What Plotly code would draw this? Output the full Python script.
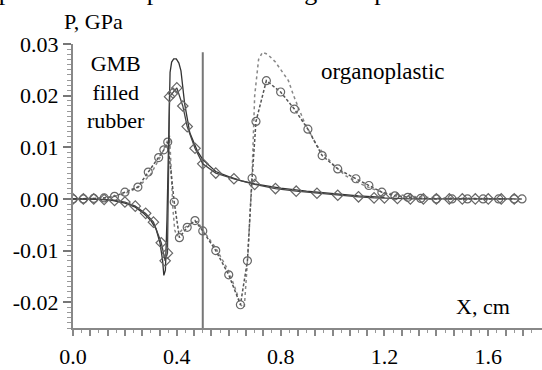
import numpy as np
import plotly.graph_objects as go

# ---- data ----
# GMB filled rubber, computed (thin solid line)
x_gmb_calc = [0.00, 0.05, 0.10, 0.15, 0.20, 0.24, 0.27, 0.30, 0.32, 0.335, 0.345, 0.350, 0.356,
              0.362, 0.368, 0.374, 0.380, 0.388, 0.398, 0.408, 0.416, 0.430, 0.450, 0.480, 0.500,
              0.550, 0.600, 0.650, 0.700, 0.800, 0.900, 1.000, 1.100, 1.200]
y_gmb_calc = [0.0, 0.0, -0.0001, -0.0003, -0.0008, -0.0016, -0.0027, -0.0042, -0.0058, -0.0085,
              -0.0118, -0.0148, -0.0138, -0.0040, 0.0110, 0.0245, 0.0265, 0.0271, 0.0271, 0.0263,
              0.0248, 0.0185, 0.0128, 0.0092, 0.0076, 0.0053, 0.0043, 0.0035, 0.0029, 0.0021,
              0.0015, 0.0010, 0.0006, 0.0003]

# GMB filled rubber, measured (solid line with diamonds)
x_gmb_exp = [0.00, 0.04, 0.08, 0.12, 0.16, 0.20, 0.24, 0.28, 0.31, 0.34, 0.355, 0.364, 0.372,
             0.385, 0.400, 0.423, 0.440, 0.470, 0.500, 0.550, 0.620, 0.700, 0.780, 0.860, 0.940,
             1.020, 1.100, 1.160, 1.200, 1.250, 1.300, 1.350, 1.400, 1.450, 1.500, 1.550, 1.600,
             1.650, 1.700]
y_gmb_exp = [0.0, 0.0, 0.0, -0.0001, -0.0003, -0.0006, -0.0014, -0.0028, -0.0045, -0.0085,
             -0.0120, -0.0105, 0.0198, 0.0205, 0.0215, 0.0180, 0.0140, 0.0098, 0.0068, 0.0050,
             0.0039, 0.0028, 0.0020, 0.0015, 0.0011, 0.0007, 0.0004, 0.0002, 0.0002, 0.0001,
             0.0, 0.0, 0.0, 0.0, 0.0, 0.0, 0.0, 0.0, 0.0]

# organoplastic, computed (thin dotted line)
x_org_calc = [0.00, 0.10, 0.15, 0.20, 0.25, 0.30, 0.34, 0.36, 0.372, 0.378, 0.385, 0.392, 0.400,
              0.420, 0.450, 0.480, 0.500, 0.550, 0.600, 0.630, 0.645, 0.660, 0.675, 0.690, 0.700,
              0.715, 0.730, 0.750, 0.780, 0.830, 0.850, 0.890, 0.940, 1.000, 1.050, 1.100, 1.150,
              1.200, 1.300, 1.400, 1.500, 1.600, 1.700]
y_org_calc = [0.0, 0.0001, 0.0004, 0.0010, 0.0022, 0.0048, 0.0085, 0.0108, 0.0122, 0.0060,
              -0.0020, -0.0060, -0.0072, -0.0060, -0.0048, -0.0044, -0.0060, -0.0095, -0.0140,
              -0.0180, -0.0205, -0.0210, -0.0100, 0.0050, 0.0200, 0.0270, 0.0284, 0.0280, 0.0265,
              0.0229, 0.0200, 0.0150, 0.0103, 0.0068, 0.0045, 0.0031, 0.0020, 0.0012, 0.0005,
              0.0002, 0.0001, 0.0, 0.0]

# organoplastic, measured (dotted line with circles)
x_org_exp = [0.00, 0.04, 0.08, 0.12, 0.16, 0.20, 0.25, 0.29, 0.33, 0.35, 0.365, 0.390, 0.410,
             0.440, 0.470, 0.500, 0.550, 0.600, 0.645, 0.672, 0.690, 0.705, 0.745, 0.800, 0.853,
             0.905, 0.960, 1.020, 1.090, 1.140, 1.190, 1.240, 1.290, 1.340, 1.400, 1.460, 1.520,
             1.580, 1.640, 1.700, 1.730]
y_org_exp = [0.0, 0.0, 0.0001, 0.0002, 0.0005, 0.0013, 0.0023, 0.0052, 0.0080, 0.0095, 0.0110,
             -0.0006, -0.0075, -0.0055, -0.0042, -0.0062, -0.0100, -0.0147, -0.0205, -0.0120,
             0.0040, 0.0150, 0.0229, 0.0207, 0.0174, 0.0135, 0.0084, 0.0058, 0.0039, 0.0026,
             0.0013, 0.0006, 0.0003, 0.0001, 0.0, 0.0, 0.0, 0.0, 0.0, 0.0, 0.0]

# boundary between the two materials
boundary_x = [0.5, 0.5]
boundary_y = [-0.025, 0.0284]

x_tick_labels = ["0.0", "0.4", "0.8", "1.2", "1.6"]
x_tick_values = [0.0, 0.4, 0.8, 1.2, 1.6]
y_tick_labels = ["-0.02", "-0.01", "0.00", "0.01", "0.02", "0.03"]
y_tick_values = [-0.02, -0.01, 0.0, 0.01, 0.02, 0.03]

FONT = "Liberation Serif, Times New Roman, Times, serif"

# x ticks: long every 0.4/6, short in between (minor)
x_step = 0.4 / 6
x_all_ticks = list(np.round(np.arange(0.0, 1.80, x_step), 6))
x_all_text = []
for v in x_all_ticks:
    lab = ""
    for tv, tl in zip(x_tick_values, x_tick_labels):
        if abs(v - tv) < 1e-6:
            lab = tl
    x_all_text.append(lab)

fig = go.Figure()

fig.add_trace(go.Scatter(x=boundary_x, y=boundary_y, mode="lines",
                         line=dict(color="#777777", width=2), hoverinfo="skip"))
fig.add_trace(go.Scatter(x=x_org_calc, y=y_org_calc, mode="lines",
                         line=dict(color="#888888", width=1.5, dash="3px,3px")))
fig.add_trace(go.Scatter(x=x_org_exp, y=y_org_exp, mode="lines+markers",
                         line=dict(color="#555555", width=1.5, dash="3px,2px"),
                         marker=dict(symbol="circle-open", size=8, color="#666666",
                                     line=dict(width=1.2, color="#666666"))))
fig.add_trace(go.Scatter(x=x_gmb_calc, y=y_gmb_calc, mode="lines",
                         line=dict(color="#333333", width=1.3)))
fig.add_trace(go.Scatter(x=x_gmb_exp, y=y_gmb_exp, mode="lines+markers",
                         line=dict(color="#444444", width=1.3),
                         marker=dict(symbol="diamond-open", size=8, color="#666666",
                                     line=dict(width=1.2, color="#666666"))))

fig.update_layout(
    width=542, height=370,
    margin=dict(l=73, r=0, t=44, b=42, autoexpand=False),
    paper_bgcolor="white", plot_bgcolor="white",
    showlegend=False,
    font=dict(family=FONT, size=22, color="black"),
)

fig.update_xaxes(
    range=[0, 1.807], showgrid=False, zeroline=False,
    showline=True, linecolor="#888888", linewidth=2,
    tickmode="array", tickvals=x_all_ticks, ticktext=x_all_text,
    ticks="outside", ticklen=6, tickwidth=1.5, tickcolor="#888888",
    minor=dict(ticks="outside", ticklen=3, tickwidth=1, tickcolor="#999999",
               tick0=x_step / 2, dtick=x_step),
    tickfont=dict(family=FONT, size=22, color="black"),
    ticklabelstandoff=2,
)
fig.update_yaxes(
    range=[-0.025, 0.03], showgrid=False, zeroline=False,
    showline=True, linecolor="#888888", linewidth=2,
    tickmode="array", tickvals=y_tick_values, ticktext=y_tick_labels,
    ticks="outside", ticklen=8, tickwidth=1.5, tickcolor="#777777",
    minor=dict(ticks="outside", ticklen=4, tickwidth=1, tickcolor="#999999",
               tick0=0, dtick=0.001),
    tickfont=dict(family=FONT, size=22, color="black"),
)

fig.add_annotation(x=0.166, y=0.0207, xref="x", yref="y",
                   text="GMB<br>filled<br>rubber", showarrow=False,
                   font=dict(family=FONT, size=22, color="black"),
                   xanchor="center", yanchor="middle")
fig.add_annotation(x=1.195, y=0.0246, xref="x", yref="y",
                   text="organoplastic", showarrow=False,
                   font=dict(family=FONT, size=23, color="black"),
                   xanchor="center", yanchor="middle")
fig.add_annotation(x=1.578, y=-0.0209, xref="x", yref="y",
                   text="X, cm", showarrow=False,
                   font=dict(family=FONT, size=22, color="black"),
                   xanchor="center", yanchor="middle")
fig.add_annotation(x=-0.0235, y=1.0775, xref="paper", yref="paper",
                   text="P, GPa", showarrow=False,
                   font=dict(family=FONT, size=22, color="black"),
                   xanchor="left", yanchor="middle")
# running text of the page above the figure, mostly cut off (as in the reference)
fig.add_annotation(x=-0.2298, y=1.1268, xref="paper", yref="paper",
                   text="amplitudes of its positive and negative parts are in reasonable agreement",
                   showarrow=False,
                   font=dict(family=FONT, size=26, color="black"),
                   xanchor="left", yanchor="bottom")

fig.write_html("out.html",
               config={"displayModeBar": False},
               post_script="document.body.style.margin='0';document.body.style.padding='0';")
